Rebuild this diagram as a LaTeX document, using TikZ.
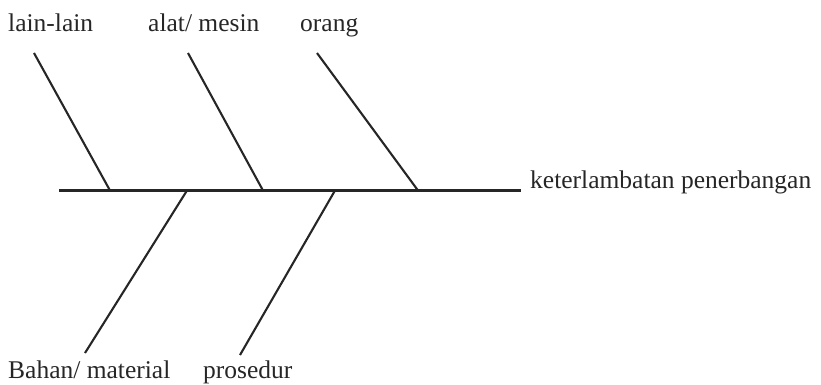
\documentclass[tikz,border=0pt]{standalone}
\usepackage{fontspec}
\setmainfont{Liberation Serif}
\begin{document}
\begin{tikzpicture}[x=1pt,y=-1pt,
  bone/.style={line width=2.1pt,black!85},
  lbl/.style={inner sep=0pt,anchor=base west,font=\fontsize{25.5}{28}\selectfont,text=black!85}]
\useasboundingbox (0,0) rectangle (821,385);
% spine
\coordinate (tail) at (59,190.5);
\coordinate (head) at (521,190.5);
\draw[bone] (tail) -- (head);
\node[lbl] (effect) at (530,188) {keterlambatan penerbangan};
% upper bones
\coordinate (s1) at (110,190.5);
\coordinate (t1) at (34,53);
\coordinate (s2) at (263,190.5);
\coordinate (t2) at (188,53);
\coordinate (s3) at (418,190.5);
\coordinate (t3) at (317,53);
\draw[bone] (s1) -- (t1);
\draw[bone] (s2) -- (t2);
\draw[bone] (s3) -- (t3);
\node[lbl] (lain) at (8,32) {lain-lain};
\node[lbl] (alat) at (148,32) {alat/ mesin};
\node[lbl] (orang) at (300,32) {orang};
% lower bones
\coordinate (s4) at (187,190.5);
\coordinate (t4) at (85,353);
\coordinate (s5) at (335,190.5);
\coordinate (t5) at (240,355);
\draw[bone] (s4) -- (t4);
\draw[bone] (s5) -- (t5);
\node[lbl] (bahan) at (8,378) {Bahan/ material};
\node[lbl] (prosedur) at (203,378) {prosedur};
\end{tikzpicture}
\end{document}
